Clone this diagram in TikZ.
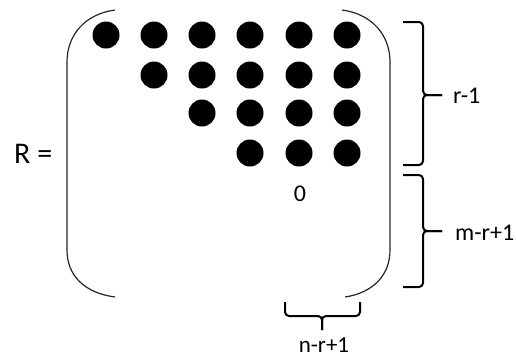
\documentclass[tikz,border=0pt]{standalone}
\usepackage{fontspec}
\setmainfont{Carlito}
\begin{document}
\begin{tikzpicture}[x=1pt,y=-1pt,
  dot/.style={circle,fill=black,inner sep=0pt,minimum size=27pt},
  lbl/.style={font=\fontsize{24}{26}\selectfont,inner sep=0pt},
  paren/.style={line width=1.2pt,black!85},
  brc/.style={line width=2pt,line join=round,rounded corners=4pt}]
\useasboundingbox (0,0) rectangle (516,360);
% dots
\foreach \r/\y in {1/35,2/75,3/113,4/153}{
  \foreach \c/\x in {1/106,2/154,3/202,4/250,5/299,6/347}{
    \ifnum\c<\r\else
      \node[dot] (d\r\c) at (\x,\y) {};
    \fi
  }
}
\node[lbl,anchor=base] (zero) at (300,201) {0};
\node[lbl,font=\fontsize{30}{32}\selectfont,anchor=base west] (R) at (14,163) {R =};
% parentheses
\draw[paren] (115,10) .. controls (85,14) and (67,35) .. (67,62) -- (67,250)
  .. controls (67,276) and (85,293) .. (115,297);
\draw[paren] (342,10) .. controls (372,14) and (390,35) .. (390,62) -- (390,250)
  .. controls (390,276) and (372,293) .. (345,297);
% right braces
\coordinate (b1t) at (403,22);
\coordinate (b1b) at (403,165);
\coordinate (b1m) at (423,95);
\coordinate (b1p) at (442,95);
\draw[brc] (b1t) -- (423,22) -- (b1m) -- (b1p);
\draw[brc] (b1b) -- (423,165) -- (b1m) -- (b1p);
\node[lbl,anchor=base west] (l1) at (453,103) {r-1};
\coordinate (b2t) at (403,175);
\coordinate (b2b) at (403,287);
\coordinate (b2m) at (423,231);
\coordinate (b2p) at (442,231);
\draw[brc] (b2t) -- (423,175) -- (b2m) -- (b2p);
\draw[brc] (b2b) -- (423,287) -- (b2m) -- (b2p);
\node[lbl,anchor=base west] (l2) at (455,240) {m-r+1};
% bottom brace
\coordinate (b3l) at (285,302);
\coordinate (b3r) at (360,302);
\coordinate (b3m) at (322,316);
\coordinate (b3p) at (322,330);
\draw[brc] (b3l) -- (285,316) -- (b3m) -- (b3p);
\draw[brc] (b3r) -- (360,316) -- (b3m) -- (b3p);
\node[lbl,anchor=base,font=\fontsize{23}{25}\selectfont] (l3) at (324,352) {n-r+1};
\end{tikzpicture}
\end{document}
